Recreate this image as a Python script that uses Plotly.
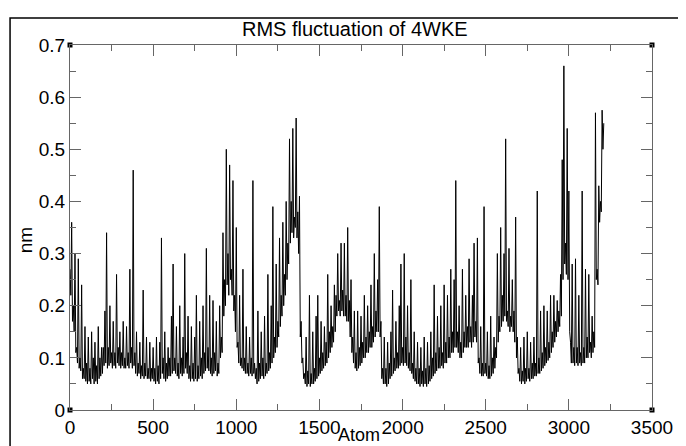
import plotly.graph_objects as go

# RMSF values (nm), one value every 5 atoms
atom_step = 5
rmsf = [
    # 0-95
    0.27, 0.22, 0.36, 0.17, 0.20, 0.15, 0.30, 0.11, 0.12, 0.09, 0.29, 0.08, 0.10, 0.075, 0.24, 0.06, 0.08, 0.06, 0.16, 0.055,
    # 100-195
    0.09, 0.05, 0.14, 0.055, 0.08, 0.05, 0.15, 0.06, 0.10, 0.05, 0.13, 0.055, 0.085, 0.05, 0.16, 0.06, 0.10, 0.065, 0.12, 0.07,
    # 200-295
    0.12, 0.085, 0.19, 0.09, 0.34, 0.08, 0.12, 0.085, 0.20, 0.09, 0.11, 0.08, 0.17, 0.085, 0.11, 0.08, 0.26, 0.09, 0.12, 0.085,
    # 300-395
    0.15, 0.08, 0.11, 0.085, 0.17, 0.08, 0.10, 0.08, 0.16, 0.085, 0.11, 0.08, 0.27, 0.09, 0.12, 0.08, 0.46, 0.085, 0.11, 0.07,
    # 400-495
    0.15, 0.065, 0.09, 0.07, 0.13, 0.06, 0.085, 0.065, 0.23, 0.06, 0.09, 0.065, 0.14, 0.06, 0.08, 0.06, 0.13, 0.055, 0.08, 0.06,
    # 500-595
    0.12, 0.055, 0.08, 0.05, 0.14, 0.055, 0.085, 0.05, 0.13, 0.06, 0.33, 0.07, 0.10, 0.06, 0.15, 0.055, 0.09, 0.06, 0.12, 0.065,
    # 600-695
    0.10, 0.065, 0.18, 0.07, 0.28, 0.075, 0.10, 0.07, 0.16, 0.065, 0.09, 0.06, 0.20, 0.07, 0.10, 0.065, 0.14, 0.07, 0.30, 0.08,
    # 700-795
    0.11, 0.07, 0.18, 0.06, 0.085, 0.055, 0.16, 0.06, 0.09, 0.055, 0.14, 0.06, 0.22, 0.055, 0.085, 0.06, 0.17, 0.065, 0.10, 0.06,
    # 800-895
    0.20, 0.07, 0.11, 0.075, 0.31, 0.08, 0.12, 0.075, 0.22, 0.07, 0.10, 0.065, 0.21, 0.07, 0.11, 0.075, 0.17, 0.065, 0.09, 0.07,
    # 900-995
    0.20, 0.10, 0.14, 0.11, 0.34, 0.18, 0.25, 0.20, 0.50, 0.24, 0.30, 0.22, 0.47, 0.25, 0.27, 0.22, 0.44, 0.19, 0.22, 0.15,
    # 1000-1095
    0.35, 0.12, 0.13, 0.09, 0.22, 0.085, 0.10, 0.08, 0.27, 0.075, 0.10, 0.07, 0.16, 0.07, 0.09, 0.065, 0.14, 0.07, 0.10, 0.065,
    # 1100-1195
    0.44, 0.07, 0.09, 0.06, 0.08, 0.05, 0.19, 0.055, 0.09, 0.06, 0.15, 0.065, 0.10, 0.06, 0.18, 0.065, 0.09, 0.07, 0.26, 0.075,
    # 1200-1295
    0.11, 0.08, 0.20, 0.09, 0.39, 0.10, 0.14, 0.11, 0.28, 0.12, 0.17, 0.14, 0.33, 0.16, 0.22, 0.18, 0.36, 0.20, 0.26, 0.22,
    # 1300-1395
    0.40, 0.25, 0.32, 0.28, 0.52, 0.32, 0.40, 0.34, 0.54, 0.33, 0.37, 0.35, 0.56, 0.33, 0.38, 0.30, 0.41, 0.14, 0.17, 0.09,
    # 1400-1495
    0.10, 0.06, 0.07, 0.05, 0.14, 0.045, 0.075, 0.05, 0.22, 0.045, 0.07, 0.05, 0.15, 0.05, 0.08, 0.055, 0.18, 0.06, 0.22, 0.065,
    # 1500-1595
    0.10, 0.07, 0.17, 0.075, 0.11, 0.08, 0.16, 0.085, 0.13, 0.09, 0.26, 0.10, 0.15, 0.11, 0.20, 0.12, 0.16, 0.13, 0.24, 0.15,
    # 1600-1695
    0.22, 0.18, 0.30, 0.19, 0.21, 0.18, 0.32, 0.19, 0.23, 0.18, 0.32, 0.18, 0.22, 0.17, 0.35, 0.17, 0.21, 0.14, 0.25, 0.11,
    # 1700-1795
    0.14, 0.09, 0.19, 0.08, 0.11, 0.075, 0.19, 0.08, 0.12, 0.085, 0.18, 0.09, 0.13, 0.10, 0.22, 0.10, 0.14, 0.11, 0.20, 0.11,
    # 1800-1895
    0.15, 0.12, 0.24, 0.12, 0.16, 0.13, 0.30, 0.14, 0.19, 0.15, 0.25, 0.15, 0.39, 0.14, 0.17, 0.06, 0.08, 0.05, 0.14, 0.05,
    # 1900-1995
    0.08, 0.045, 0.13, 0.05, 0.09, 0.06, 0.15, 0.065, 0.23, 0.07, 0.10, 0.075, 0.17, 0.08, 0.11, 0.08, 0.20, 0.085, 0.28, 0.09,
    # 2000-2095
    0.12, 0.085, 0.30, 0.09, 0.14, 0.085, 0.20, 0.08, 0.11, 0.075, 0.25, 0.07, 0.09, 0.06, 0.15, 0.055, 0.08, 0.05, 0.13, 0.05,
    # 2100-2195
    0.08, 0.045, 0.12, 0.05, 0.075, 0.045, 0.14, 0.05, 0.08, 0.045, 0.13, 0.05, 0.085, 0.055, 0.15, 0.06, 0.10, 0.065, 0.24, 0.07,
    # 2200-2295
    0.11, 0.075, 0.18, 0.08, 0.12, 0.08, 0.20, 0.085, 0.11, 0.08, 0.24, 0.09, 0.13, 0.09, 0.22, 0.10, 0.14, 0.10, 0.27, 0.11,
    # 2300-2395
    0.15, 0.11, 0.25, 0.12, 0.44, 0.12, 0.15, 0.11, 0.20, 0.10, 0.13, 0.10, 0.27, 0.11, 0.15, 0.12, 0.22, 0.12, 0.16, 0.12,
    # 2400-2495
    0.29, 0.13, 0.16, 0.12, 0.22, 0.13, 0.32, 0.14, 0.17, 0.13, 0.33, 0.09, 0.10, 0.07, 0.16, 0.065, 0.09, 0.065, 0.39, 0.07,
    # 2500-2595
    0.09, 0.065, 0.15, 0.06, 0.085, 0.06, 0.18, 0.065, 0.10, 0.07, 0.14, 0.08, 0.12, 0.10, 0.30, 0.13, 0.18, 0.15, 0.35, 0.16,
    # 2600-2695
    0.22, 0.17, 0.30, 0.18, 0.52, 0.17, 0.19, 0.16, 0.31, 0.15, 0.18, 0.16, 0.25, 0.15, 0.19, 0.13, 0.37, 0.10, 0.14, 0.07,
    # 2700-2795
    0.08, 0.055, 0.12, 0.05, 0.075, 0.055, 0.14, 0.05, 0.08, 0.055, 0.15, 0.06, 0.08, 0.055, 0.13, 0.06, 0.09, 0.06, 0.14, 0.065,
    # 2800-2895
    0.09, 0.065, 0.42, 0.07, 0.10, 0.07, 0.19, 0.075, 0.11, 0.08, 0.20, 0.085, 0.12, 0.09, 0.19, 0.095, 0.13, 0.10, 0.22, 0.11,
    # 2900-2995
    0.15, 0.12, 0.22, 0.13, 0.17, 0.14, 0.21, 0.15, 0.19, 0.16, 0.26, 0.18, 0.48, 0.25, 0.66, 0.28, 0.32, 0.26, 0.54, 0.25,
    # 3000-3095
    0.42, 0.15, 0.13, 0.09, 0.28, 0.09, 0.12, 0.085, 0.29, 0.09, 0.12, 0.085, 0.22, 0.09, 0.11, 0.085, 0.42, 0.09, 0.12, 0.09,
    # 3100-3195
    0.27, 0.10, 0.14, 0.10, 0.26, 0.11, 0.13, 0.10, 0.18, 0.11, 0.15, 0.12, 0.57, 0.25, 0.27, 0.24, 0.43, 0.36, 0.40, 0.38,
    # 3200-3210
    0.575, 0.50, 0.55,
]
atoms = [i * atom_step for i in range(len(rmsf))]

x_range = [0, 3500]
y_range = [0, 0.7]

FONT = "Liberation Sans, Arial, sans-serif"
AX = "#666666"

fig = go.Figure()
fig.add_trace(go.Scatter(x=atoms, y=rmsf, mode="lines",
                         line=dict(color="black", width=1),
                         hoverinfo="skip", showlegend=False))
# corner squares (xmgrace style)
fig.add_trace(go.Scatter(x=[x_range[0], x_range[1], x_range[0], x_range[1]],
                         y=[y_range[0], y_range[0], y_range[1], y_range[1]],
                         mode="markers", cliponaxis=False,
                         marker=dict(symbol="square", size=5, color="black"),
                         hoverinfo="skip", showlegend=False))

axis_common = dict(showline=True, linecolor=AX, linewidth=1, mirror="ticks",
                   ticks="inside", ticklen=11, tickwidth=1, tickcolor=AX,
                   showgrid=False, zeroline=False, automargin=False,
                   tickfont=dict(family=FONT, size=19, color="black"))

fig.update_xaxes(range=x_range, dtick=500, tick0=0,
                 minor=dict(ticks="inside", ticklen=6, dtick=250, tickcolor=AX),
                 **axis_common)
fig.update_yaxes(range=y_range, dtick=0.1, tick0=0,
                 minor=dict(ticks="inside", ticklen=6, dtick=0.05, tickcolor=AX),
                 **axis_common)

# page body adds an 8 px offset, so the figure is 678x438
fig.update_layout(
    width=678, height=438,
    margin=dict(l=62, r=34, t=37, b=36),
    paper_bgcolor="white", plot_bgcolor="white",
    annotations=[
        dict(text="RMS fluctuation of 4WKE", xref="paper", yref="paper",
             x=0.49, y=1.0, yshift=16, showarrow=False,
             font=dict(family=FONT, size=20, color="black"), yanchor="middle"),
        dict(text="Atom", xref="paper", yref="paper", x=0.497, y=0, yshift=-25,
             showarrow=False, font=dict(family=FONT, size=18, color="black"),
             yanchor="middle"),
        dict(text="nm", xref="paper", yref="paper", x=0, xshift=-45, y=0.465,
             textangle=-90, showarrow=False,
             font=dict(family=FONT, size=19, color="black"), xanchor="center"),
    ],
    shapes=[
        dict(type="path", xref="paper", yref="paper",
             path="M -0.103 -0.2 L -0.103 1.074 L 1.2 1.074",
             line=dict(color="black", width=1.5)),
    ],
)

fig.write_html("out.html")
